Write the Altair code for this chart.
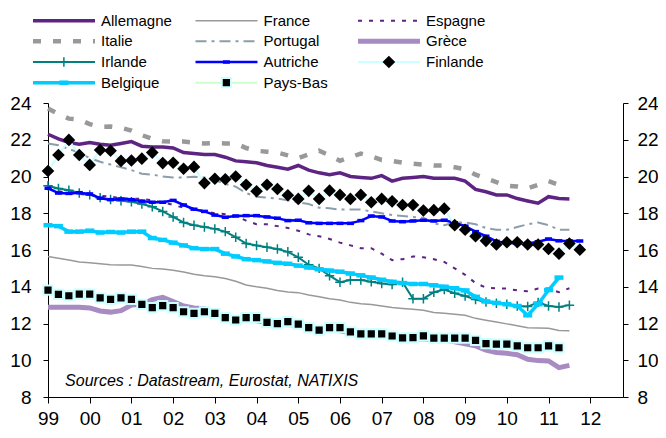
import altair as alt
import pandas as pd

# ---------------- data (quarterly, first point = 1999 Q1) ----------------
START_YEAR = 1999.0
STEP = 0.25

names = ["Allemagne", "France", "Espagne", "Italie", "Portugal", "Grèce",
         "Irlande", "Autriche", "Finlande", "Belgique", "Pays-Bas"]

allemagne = [22.3, 22.05, 21.85, 21.75, 21.85, 21.75, 21.7, 21.8, 21.9, 21.65,
             21.6, 21.6, 21.55, 21.3, 21.25, 21.2, 21.2, 21.05, 20.85, 20.8,
             20.75, 20.6, 20.5, 20.4, 20.6, 20.35, 20.2, 20.1, 20.2, 20.0,
             19.95, 19.9, 20.05, 19.75, 19.9, 19.95, 20.0, 19.9, 19.9, 19.9,
             19.75, 19.3, 19.17, 19.0, 19.0, 18.8, 18.67, 18.55, 18.9, 18.8, 18.78]
france = [15.65, 15.55, 15.45, 15.35, 15.3, 15.25, 15.2, 15.18, 15.18, 15.1,
          15.0, 14.97, 14.9, 14.8, 14.68, 14.6, 14.55, 14.45, 14.3, 14.1,
          14.0, 13.92, 13.8, 13.72, 13.68, 13.55, 13.45, 13.35, 13.28, 13.15,
          13.08, 13.04, 12.95, 12.87, 12.82, 12.78, 12.72, 12.6, 12.56, 12.5,
          12.45, 12.28, 12.18, 12.08, 11.98, 11.88, 11.77, 11.75, 11.74, 11.62, 11.6]
espagne = [19.35, 19.2, 19.1, 19.05, 19.0, 18.95, 18.9, 18.82, 18.8, 18.78,
           18.7, 18.6, 18.45, 18.3, 18.25, 18.1, 18.0, 17.95, 17.85, 17.6,
           17.4, 17.4, 17.3, 17.2, 17.05, 16.85, 16.75, 16.6, 16.4, 16.25,
           16.1, 16.1, 15.8, 15.45, 15.5, 15.65, 15.6, 15.5, 15.35, 15.0,
           14.65, 14.2, 13.95, 13.92, 13.9, 13.8, 13.75, 13.9, 13.9, 13.7, 13.92]
italie = [23.7, 23.4, 23.15, 23.1, 22.85, 22.7, 22.72, 22.65, 22.5, 22.25,
          22.05, 21.92, 21.9, 21.9, 21.85, 21.8, 21.82, 21.8, 21.8, 21.55,
          21.4, 21.35, 21.3, 21.15, 21.0, 21.2, 21.4, 21.15, 20.85, 21.05,
          21.25, 21.1, 20.9, 20.85, 20.75, 20.7, 20.65, 20.6, 20.6, 20.5,
          20.4, 20.1, 19.9, 19.7, 19.5, 19.45, 19.35, 19.55, 19.75, 19.55]
portugal = [21.8, 21.7, 21.5, 21.3, 21.0, 20.8, 20.65, 20.5, 20.35, 20.15,
            20.1, 20.0, 19.95, 19.95, 19.98, 19.95, 19.8, 19.6, 19.45, 19.1,
            18.9, 18.85, 18.8, 18.7, 18.6, 18.5, 18.3, 18.27, 18.2, 18.2,
            18.2, 18.1, 18.0, 17.9, 17.85, 17.8, 17.75, 17.45, 17.35, 17.5,
            17.5, 17.4, 17.2, 17.1, 17.1, 17.25, 17.4, 17.5, 17.35, 17.1, 17.1]
grece = [12.88, 12.88, 12.88, 12.88, 12.85, 12.68, 12.62, 12.7, 13.0, 13.05,
         13.3, 13.42, 13.2, 12.95, 12.85, 12.8, 12.5, 12.35, 12.25, 12.2,
         12.15, 12.05, 11.95, 11.95, 11.9, 11.75, 11.65, 11.65, 11.6, 11.5,
         11.4, 11.35, 11.35, 11.25, 11.2, 11.15, 11.15, 11.1, 11.1, 11.0,
         10.9, 10.78, 10.55, 10.42, 10.38, 10.3, 10.05, 9.98, 9.96, 9.6, 9.72]
irlande = [19.5, 19.35, 19.25, 19.1, 19.0, 18.85, 18.75, 18.68, 18.62, 18.5,
           18.35, 18.1, 17.8, 17.5, 17.35, 17.25, 17.15, 17.0, 16.7, 16.35,
           16.25, 16.15, 16.05, 15.9, 15.6, 15.2, 15.0, 14.6, 14.25, 14.37,
           14.37, 14.27, 14.18, 14.12, 14.25, 13.35, 13.35, 13.7, 13.85, 13.65,
           13.5, 13.3, 13.17, 13.1, 13.05, 12.95, 12.92, 13.15, 12.95, 12.9, 13.0]
autriche = [19.36, 19.1, 19.08, 19.12, 19.05, 18.82, 18.74, 18.78, 18.74, 18.66,
            18.6, 18.6, 18.7, 18.45, 18.22, 18.1, 17.9, 17.78, 17.85, 17.87,
            17.87, 17.8, 17.73, 17.6, 17.62, 17.48, 17.45, 17.45, 17.45, 17.45,
            17.6, 17.85, 17.8, 17.58, 17.54, 17.58, 17.62, 17.58, 17.62, 17.48,
            17.3, 17.0, 16.75, 16.47, 16.38, 16.36, 16.36, 16.45, 16.6, 16.5,
            16.49, 16.49]
finlande = [20.3, 21.17, 21.99, 21.17, 20.63, 21.44, 21.4, 20.85, 20.87, 20.97,
            21.3, 20.73, 20.75, 20.42, 20.52, 19.64, 19.88, 19.85, 20.0, 19.55,
            19.2, 19.55, 19.32, 18.98, 18.78, 19.22, 18.78, 19.23, 19.0, 18.78,
            19.0, 18.6, 18.78, 18.65, 18.45, 18.45, 18.15, 18.17, 18.25, 17.35,
            17.1, 16.75, 16.5, 16.3, 16.42, 16.42, 16.3, 16.3, 16.06, 15.8,
            16.35, 16.02]
belgique = [17.35, 17.3, 17.0, 17.0, 17.05, 16.95, 16.98, 16.95, 17.0, 17.0,
            16.65, 16.55, 16.4, 16.25, 16.1, 16.05, 16.05, 15.8, 15.65, 15.5,
            15.45, 15.38, 15.3, 15.25, 15.15, 15.05, 14.95, 14.88, 14.82, 14.72,
            14.62, 14.5, 14.38, 14.27, 14.2, 14.15, 14.15, 14.08, 14.0, 13.92,
            13.8, 13.45, 13.2, 13.12, 13.05, 12.95, 12.45, 13.05, 13.82, 14.5]
pays_bas = [13.82, 13.59, 13.51, 13.6, 13.6, 13.4, 13.31, 13.4, 13.31, 13.04,
            12.86, 12.97, 12.86, 12.64, 12.55, 12.64, 12.55, 12.32, 12.19, 12.32,
            12.32, 12.06, 11.99, 12.1, 11.97, 11.77, 11.64, 11.77, 11.77, 11.55,
            11.43, 11.43, 11.43, 11.32, 11.22, 11.23, 11.33, 11.2, 11.2, 11.2,
            11.2, 11.08, 10.9, 10.88, 10.88, 10.78, 10.68, 10.68, 10.78, 10.68]

series_values = [allemagne, france, espagne, italie, portugal, grece,
                 irlande, autriche, finlande, belgique, pays_bas]

x_tick_values = list(range(1999, 2013))
x_tick_labels = ["99", "00", "01", "02", "03", "04", "05", "06", "07",
                 "08", "09", "10", "11", "12"]
y_tick_values = [8, 10, 12, 14, 16, 18, 20, 22, 24]
source_note = "Sources : Datastream, Eurostat, NATIXIS"

# ---------------- styling ----------------
FONT = "Liberation Sans"
W, H = 575, 294
X_DOMAIN = [1999, 2012.785]
Y_DOMAIN = [8, 24]
PURPLE = "#5E2483"
BAR = "M-1,-0.5H1V0.5H-1Z"

styles = {
    "Allemagne": {"line": dict(color=PURPLE, strokeWidth=3.5)},
    "France": {"line": dict(color="#999999", strokeWidth=1.5)},
    "Espagne": {"line": dict(color=PURPLE, strokeWidth=2, strokeDash=[4, 7])},
    "Italie": {"line": dict(color="#999999", strokeWidth=4.5, strokeDash=[8, 12])},
    "Portugal": {"line": dict(color="#8C9EAC", strokeWidth=2, strokeDash=[11, 5, 3, 5])},
    "Grèce": {"line": dict(color="#A88BC2", strokeWidth=5)},
    "Irlande": {"line": dict(color="#008080", strokeWidth=2),
                "point": dict(shape="M-1,0H1M0,-1V1", filled=False, stroke="#008080",
                              strokeWidth=1.5, size=90)},
    "Autriche": {"line": dict(color="#0000FF", strokeWidth=2.5),
                 "point": dict(shape=BAR, filled=True, fill="#0000FF", strokeWidth=0, size=49)},
    "Finlande": {"line": dict(color="#CCFFFF", strokeWidth=2),
                 "point": dict(shape="diamond", filled=True, fill="black", strokeWidth=0, size=160)},
    "Belgique": {"line": dict(color="#00CCFF", strokeWidth=3.5),
                 "point": dict(shape=BAR, filled=True, fill="#00CCFF", strokeWidth=0, size=81)},
    "Pays-Bas": {"line": dict(color="#CCFFCC", strokeWidth=2),
                 "point": dict(shape="square", filled=True, fill="black", stroke="#CCFFFF",
                               strokeWidth=2, size=85)},
}

label_expr = "[" + ",".join("'%s'" % l for l in x_tick_labels) + "][datum.value - %d]" % x_tick_values[0]

x_axis = alt.Axis(values=x_tick_values, labelExpr=label_expr, title=None, grid=False,
                  domainColor="black", tickColor="black", tickSize=6, labelFontSize=19,
                  labelColor="black", labelPadding=6, labelFont=FONT, labelFlush=False,
                  labelOverlap=False, orient="bottom")
y_left = alt.Axis(values=y_tick_values, orient="left", title=None, grid=False,
                  domainColor="black", tickColor="black", tickSize=5, labelFontSize=19,
                  labelColor="black", labelPadding=12, labelFont=FONT)
y_right = alt.Axis(values=y_tick_values, orient="right", title=None, grid=False,
                   domainColor="black", tickColor="black", tickSize=5, labelFontSize=19,
                   labelColor="black", labelPadding=9, labelFont=FONT)


def xscale():
    return alt.Scale(domain=X_DOMAIN, nice=False, zero=False)


def yscale():
    return alt.Scale(domain=Y_DOMAIN, nice=False, zero=False)


frames = {}
for n, vals in zip(names, series_values):
    frames[n] = pd.DataFrame({"t": [START_YEAR + i * STEP for i in range(len(vals))],
                              "v": vals})

main_layers = []
for n in names:
    st = styles[n]
    main_layers.append(
        alt.Chart(frames[n]).mark_line(**st["line"]).encode(
            x=alt.X("t:Q", scale=xscale(), axis=None),
            y=alt.Y("v:Q", scale=yscale(), axis=None),
        )
    )
    if "point" in st:
        main_layers.append(
            alt.Chart(frames[n]).mark_point(opacity=1, **st["point"]).encode(
                x=alt.X("t:Q", scale=xscale(), axis=None),
                y=alt.Y("v:Q", scale=yscale(), axis=None),
            )
        )

src_df = pd.DataFrame({"t": [1999.41], "v": [8.62], "label": [source_note]})
main_layers.append(
    alt.Chart(src_df).mark_text(align="left", baseline="alphabetic", fontSize=16,
                                fontStyle="italic", font=FONT, color="black").encode(
        x=alt.X("t:Q", scale=xscale(), axis=None),
        y=alt.Y("v:Q", scale=yscale(), axis=None),
        text="label:N",
    )
)
main = alt.layer(*main_layers)

# axes: bottom + left on one invisible layer, right duplicate on another
left_axes = alt.Chart(frames[names[0]]).mark_line(opacity=0).encode(
    x=alt.X("t:Q", scale=xscale(), axis=x_axis),
    y=alt.Y("v:Q", scale=yscale(), axis=y_left),
)
right_axis = alt.Chart(frames[names[0]]).mark_line(opacity=0).encode(
    x=alt.X("t:Q", scale=xscale(), axis=None),
    y=alt.Y("v:Q", scale=yscale(), axis=y_right),
)

# ---------------- legend (3 columns x 4 rows, above the plot) ----------------
leg_rows = []
for i, n in enumerate(names):
    c, r = i % 3, i // 3
    leg_rows.append({"name": n, "row": r, "x0": c, "x1": c + 0.3815,
                     "xm": c + 0.19, "xt": c + 0.4185})
leg_df = pd.DataFrame(leg_rows)
LX = alt.Scale(domain=[0, 2], range=[-15, 310], nice=False, zero=False)
LY = alt.Scale(domain=[0, 3], range=[-82.3, -20.3], nice=False, zero=False)

legend_layers = []
for n in names:
    st = styles[n]
    d = leg_df[leg_df["name"] == n]
    legend_layers.append(
        alt.Chart(d).mark_rule(**st["line"]).encode(
            x=alt.X("x0:Q", scale=LX, axis=None), x2="x1:Q",
            y=alt.Y("row:Q", scale=LY, axis=None),
        )
    )
    if "point" in st:
        legend_layers.append(
            alt.Chart(d).mark_point(opacity=1, **st["point"]).encode(
                x=alt.X("xm:Q", scale=LX, axis=None),
                y=alt.Y("row:Q", scale=LY, axis=None),
            )
        )
legend_layers.append(
    alt.Chart(leg_df).mark_text(align="left", baseline="middle", fontSize=15,
                                font=FONT, color="black").encode(
        x=alt.X("xt:Q", scale=LX, axis=None),
        y=alt.Y("row:Q", scale=LY, axis=None),
        text="name:N",
    )
)
legend = alt.layer(*legend_layers)

chart = alt.layer(main, legend, left_axes, right_axis).resolve_scale(
    x="independent", y="independent"
).properties(
    width=W, height=H,
    padding={"left": 40, "top": 95, "right": 35, "bottom": 33},
    autosize=alt.AutoSizeParams(type="none"),
).configure_view(stroke=None)

chart.save("out.html", embed_options={"renderer": "svg", "actions": False})
